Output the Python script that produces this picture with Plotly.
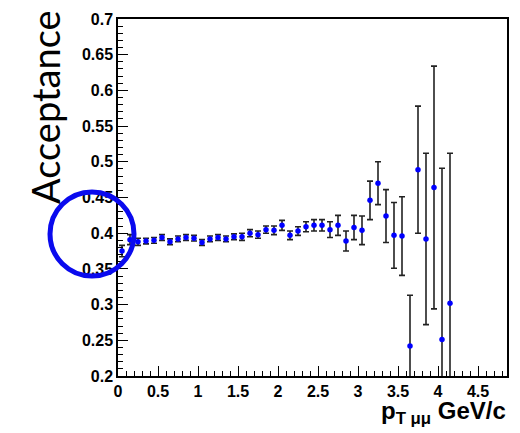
import plotly.graph_objects as go

# ---- data ----
pt_centers = [0.05, 0.15, 0.25, 0.35, 0.45, 0.55, 0.65, 0.75, 0.85, 0.95,
              1.05, 1.15, 1.25, 1.35, 1.45, 1.55, 1.65, 1.75, 1.85, 1.95,
              2.05, 2.15, 2.25, 2.35, 2.45, 2.55, 2.65, 2.75, 2.85, 2.95,
              3.05, 3.15, 3.25, 3.35, 3.45, 3.55, 3.65, 3.75, 3.85, 3.95,
              4.05, 4.15]
acceptance = [0.375, 0.391, 0.388, 0.389, 0.390, 0.394, 0.388, 0.392, 0.394, 0.393,
              0.387, 0.392, 0.394, 0.392, 0.395, 0.395, 0.400, 0.398, 0.405, 0.404,
              0.411, 0.397, 0.403, 0.409, 0.411, 0.411, 0.405, 0.411, 0.389, 0.408,
              0.404, 0.446, 0.470, 0.424, 0.397, 0.396, 0.242, 0.489, 0.392, 0.464,
              0.251, 0.302]
acc_err = [0.008, 0.007, 0.005, 0.004, 0.004, 0.004, 0.004, 0.004, 0.004, 0.004,
           0.004, 0.004, 0.004, 0.004, 0.004, 0.005, 0.005, 0.005, 0.005, 0.006,
           0.007, 0.006, 0.006, 0.007, 0.008, 0.008, 0.011, 0.014, 0.014, 0.017,
           0.020, 0.027, 0.030, 0.037, 0.046, 0.055, 0.071, 0.089, 0.120, 0.170,
           0.240, 0.210]

x_range = [0, 4.8625]
y_range = [0.2, 0.7]
x_ticks = [0, 0.5, 1, 1.5, 2, 2.5, 3, 3.5, 4, 4.5]
x_ticklabels = ["0", "0.5", "1", "1.5", "2", "2.5", "3", "3.5", "4", "4.5"]
y_ticks = [0.2, 0.25, 0.3, 0.35, 0.4, 0.45, 0.5, 0.55, 0.6, 0.65, 0.7]
y_ticklabels = ["0.2", "0.25", "0.3", "0.35", "0.4", "0.45", "0.5", "0.55", "0.6", "0.65", "0.7"]

W, H = 520, 433
L, R, T, B = 118, 13, 19, 57
pw, ph = W - L - R, H - T - B

def px_to_paper_x(px):
    return (px - L) / pw

def px_to_paper_y(py):
    return (H - B - py) / ph

fig = go.Figure()
fig.add_trace(go.Scatter(
    x=pt_centers, y=acceptance,
    mode="markers",
    marker=dict(color="#0000ff", size=5.5),
    error_y=dict(type="data", array=acc_err, visible=True,
                 color="#222222", thickness=1.6, width=3),
    showlegend=False,
))

tickfont = dict(family="Liberation Sans", size=16, color="black", weight="bold")

fig.update_layout(
    width=W, height=H,
    margin=dict(l=L, r=R, t=T, b=B),
    paper_bgcolor="white", plot_bgcolor="white",
    xaxis=dict(range=x_range, tickvals=x_ticks, ticktext=x_ticklabels,
               ticks="inside", ticklen=10, tickwidth=1.2, tickcolor="black",
               minor=dict(dtick=0.1, ticks="inside", ticklen=5, tickcolor="black", tickwidth=1.2),
               showgrid=False, zeroline=False,
               showline=True, linecolor="black", linewidth=1.5, mirror=True,
               tickfont=tickfont),
    yaxis=dict(range=y_range, tickvals=y_ticks, ticktext=y_ticklabels,
               ticks="inside", ticklen=10, tickwidth=1.2, tickcolor="black",
               minor=dict(dtick=0.01, ticks="inside", ticklen=5, tickcolor="black", tickwidth=1.2),
               showgrid=False, zeroline=False,
               showline=True, linecolor="black", linewidth=1.5, mirror=True,
               tickfont=tickfont),
)

# x-axis title (bottom right)
fig.add_annotation(
    text="<b>p<sub>T μμ</sub> GeV/c</b>",
    xref="paper", yref="paper",
    x=px_to_paper_x(507), y=px_to_paper_y(396),
    xanchor="right", yanchor="top", showarrow=False, borderpad=0,
    font=dict(family="Liberation Sans", size=24, color="black"),
)

# y-axis title (large rotated)
fig.add_annotation(
    text="Acceptance",
    xref="paper", yref="paper",
    x=px_to_paper_x(45), y=px_to_paper_y(107),
    xanchor="center", yanchor="middle", textangle=-90, showarrow=False,
    font=dict(family="Lato", size=38, color="black"),
)

# highlighting ellipse
fig.add_shape(
    type="circle", xref="paper", yref="paper",
    x0=px_to_paper_x(50), x1=px_to_paper_x(134),
    y0=px_to_paper_y(276), y1=px_to_paper_y(192),
    line=dict(color="#0a0aee", width=5),
)

fig.write_html("out.html")
